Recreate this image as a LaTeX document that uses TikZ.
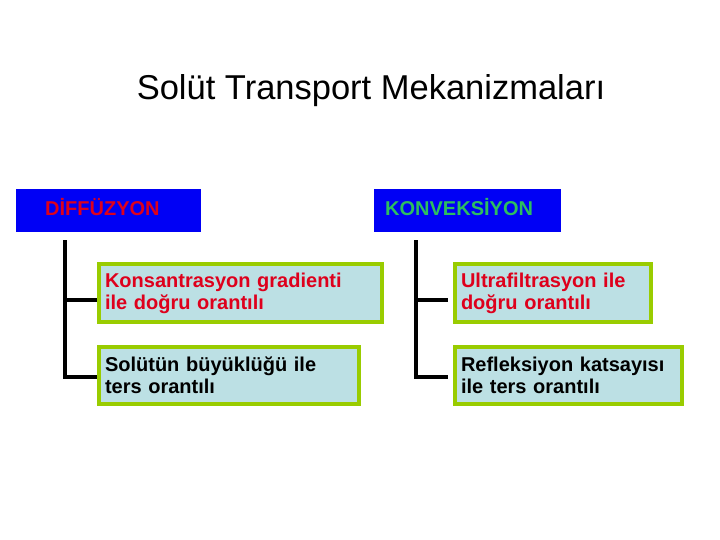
\documentclass[tikz,border=0pt]{standalone}
\usepackage{fontspec}
\setmainfont{Liberation Sans}

\definecolor{headblue}{RGB}{0,0,245}
\definecolor{redtext}{RGB}{222,0,28}
\definecolor{greentext}{RGB}{45,190,95}
\definecolor{boxfill}{RGB}{188,224,228}
\definecolor{boxline}{RGB}{153,204,0}

\begin{document}
\begin{tikzpicture}[
    x=1pt,
    y=-1pt,
    line join=miter,
    headbox/.style={fill=headblue, anchor=north west, minimum height=43pt, text depth=7pt,
        align=left, inner ysep=0pt, font=\fontsize{20}{22}\selectfont\bfseries},
    itembox/.style={draw=boxline, fill=boxfill, line width=4pt, anchor=north west,
        inner xsep=6pt, inner ysep=0pt, align=left,
        font=\fontsize{20}{22}\selectfont\bfseries},
    tree/.style={line width=4pt, black}
]
\useasboundingbox (0,0) rectangle (720,540);

% baslik
\node (title) at (371,91) {\fontsize{34.5}{38}\selectfont Solüt Transport Mekanizmaları};

% ust kutular
\node[headbox, text=redtext, inner xsep=29pt, text width=127pt] (dif) at (16,189) {DİFFÜZYON};
\node[headbox, text=greentext, inner xsep=11pt, text width=165pt] (kon) at (374,189) {KONVEKSİYON};

% alt kutular
\node[itembox, text=redtext, minimum width=283pt, minimum height=58pt, text width=271pt] (ka) at (97,262)
    {Konsantrasyon gradienti\\ile doğru orantılı};
\node[itembox, minimum width=260pt, minimum height=57pt, text width=248pt] (kb) at (97,345)
    {Solütün büyüklüğü ile\\ters orantılı};
\node[itembox, text=redtext, minimum width=196pt, minimum height=58pt, text width=184pt] (kc) at (453,262)
    {Ultrafiltrasyon ile\\doğru orantılı};
\node[itembox, minimum width=227pt, minimum height=57pt, text width=215pt] (kd) at (453,345)
    {Refleksiyon katsayısı\\ile ters orantılı};

% agac cizgileri
\coordinate (d0) at (64.5,240);
\coordinate (d1) at (64.5,300);
\coordinate (d2) at (64.5,377);
\coordinate (k0) at (415.5,240);
\coordinate (k1) at (415.5,300);
\coordinate (k2) at (415.5,377);
\coordinate (ke1) at (448,300);
\coordinate (ke2) at (448,377);

\draw[tree] (d0) -- (d2) -- (d2 -| kb.west);
\draw[tree] (d1) -- (d1 -| ka.west);
\draw[tree] (k0) -- (k2) -- (ke2);
\draw[tree] (k1) -- (ke1);

\end{tikzpicture}
\end{document}
